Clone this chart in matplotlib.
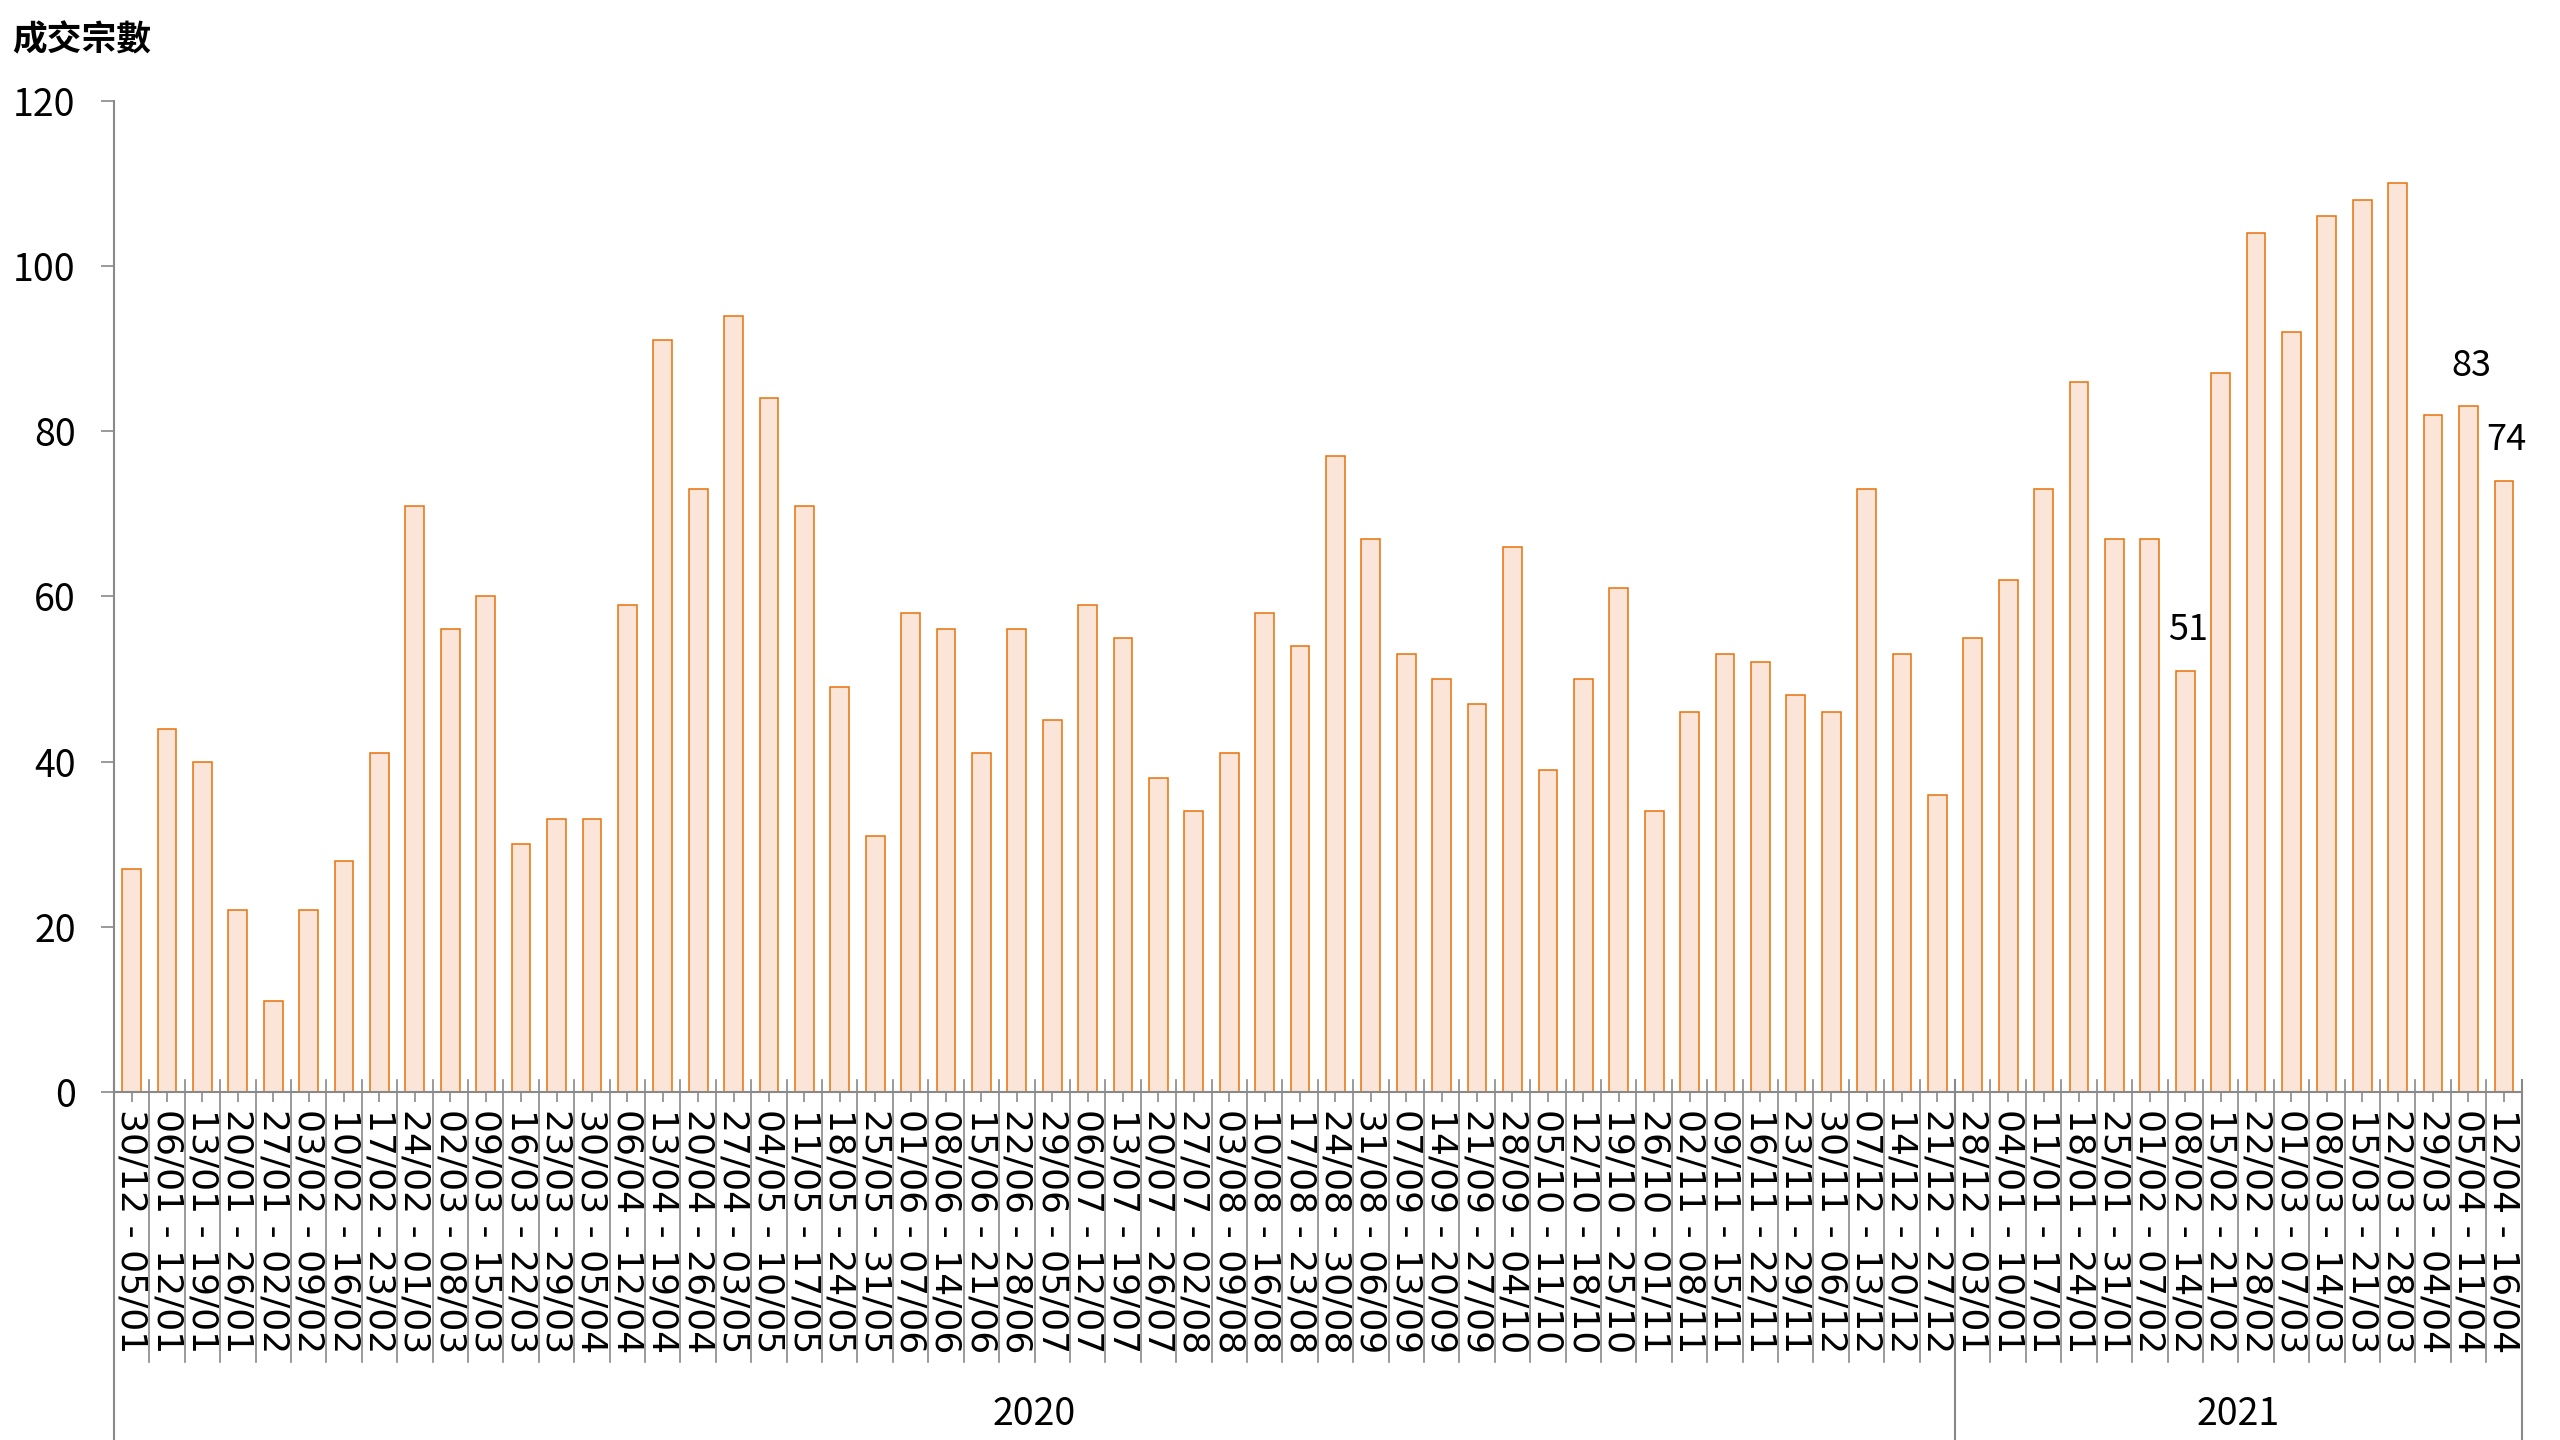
import numpy as np
import matplotlib
matplotlib.use("Agg")
import matplotlib.pyplot as plt
from matplotlib import transforms

# weekly periods and transaction counts
weeks_2020 = [
    "30/12 - 05/01", "06/01 - 12/01", "13/01 - 19/01", "20/01 - 26/01", "27/01 - 02/02",
    "03/02 - 09/02", "10/02 - 16/02", "17/02 - 23/02", "24/02 - 01/03", "02/03 - 08/03",
    "09/03 - 15/03", "16/03 - 22/03", "23/03 - 29/03", "30/03 - 05/04", "06/04 - 12/04",
    "13/04 - 19/04", "20/04 - 26/04", "27/04 - 03/05", "04/05 - 10/05", "11/05 - 17/05",
    "18/05 - 24/05", "25/05 - 31/05", "01/06 - 07/06", "08/06 - 14/06", "15/06 - 21/06",
    "22/06 - 28/06", "29/06 - 05/07", "06/07 - 12/07", "13/07 - 19/07", "20/07 - 26/07",
    "27/07 - 02/08", "03/08 - 09/08", "10/08 - 16/08", "17/08 - 23/08", "24/08 - 30/08",
    "31/08 - 06/09", "07/09 - 13/09", "14/09 - 20/09", "21/09 - 27/09", "28/09 - 04/10",
    "05/10 - 11/10", "12/10 - 18/10", "19/10 - 25/10", "26/10 - 01/11", "02/11 - 08/11",
    "09/11 - 15/11", "16/11 - 22/11", "23/11 - 29/11", "30/11 - 06/12", "07/12 - 13/12",
    "14/12 - 20/12", "21/12 - 27/12",
]
weeks_2021 = [
    "28/12 - 03/01", "04/01 - 10/01", "11/01 - 17/01", "18/01 - 24/01", "25/01 - 31/01",
    "01/02 - 07/02", "08/02 - 14/02", "15/02 - 21/02", "22/02 - 28/02", "01/03 - 07/03",
    "08/03 - 14/03", "15/03 - 21/03", "22/03 - 28/03", "29/03 - 04/04", "05/04 - 11/04",
    "12/04 - 16/04",
]
counts_2020 = [27, 44, 40, 22, 11, 22, 28, 41, 71, 56, 60, 30, 33, 33, 59, 91, 73, 94, 84, 71,
               49, 31, 58, 56, 41, 56, 45, 59, 55, 38, 34, 41, 58, 54, 77, 67, 53, 50, 47, 66,
               39, 50, 61, 34, 46, 53, 52, 48, 46, 73, 53, 36]
counts_2021 = [55, 62, 73, 86, 67, 67, 51, 87, 104, 92, 106, 108, 110, 82, 83, 74]
years = ["2020", "2021"]
labelled = ["08/02 - 14/02", "05/04 - 11/04", "12/04 - 16/04"]

labels = weeks_2020 + weeks_2021
values = np.array(counts_2020 + counts_2021)
group_sizes = [len(weeks_2020), len(weeks_2021)]
x = np.arange(len(values))

GRAY = "#898989"
cjk = ["Noto Sans CJK TC", "DejaVu Sans"]

fig = plt.figure(figsize=(25.6, 14.4), dpi=100)
ax = fig.add_axes([0.0445, 0.2417, 0.9405, 0.6883])

ax.bar(x, values, width=0.53, color="#FAE5D8", edgecolor="#E8710A", linewidth=1.1, zorder=2)

ax.set_xlim(-0.5, len(values) - 0.5)
ax.set_ylim(0, 120)
ax.set_yticks(np.arange(0, 121, 20))
for lab in ax.get_yticklabels():
    lab.set_family(cjk)
ax.tick_params(axis="y", length=9.5, width=1.2, color=GRAY, pad=18, labelsize=27)

ax.set_xticks(x)
ax.set_xticklabels(labels, rotation=270, ha="center", va="top", fontsize=26,
                   family="DejaVu Sans")
ax.tick_params(axis="x", direction="inout", length=14, width=1.2, color=GRAY, pad=5)

for s in ["top", "right"]:
    ax.spines[s].set_visible(False)
for s in ["left", "bottom"]:
    ax.spines[s].set_color(GRAY)
    ax.spines[s].set_linewidth(1.5)

# category separators and year group separators below the axis
trans = transforms.blended_transform_factory(ax.transData, fig.transFigure)
for b in np.arange(len(values) + 1) - 0.5:
    ax.plot([b, b], [0.25, 0.054], color=GRAY, lw=1.2, transform=trans, clip_on=False)
edges = np.concatenate([[0], np.cumsum(group_sizes)]) - 0.5
for e in edges:
    ax.plot([e, e], [0.25, 0.0], color=GRAY, lw=1.5, transform=trans, clip_on=False)
for i, yr in enumerate(years):
    ax.text((edges[i] + edges[i + 1]) / 2, 0.018, yr, transform=trans, ha="center",
            va="center", fontsize=27, family=cjk)

# value labels on selected bars
for lab in labelled:
    i = labels.index(lab)
    ax.annotate(str(values[i]), (x[i], values[i]), xytext=(2, 29), textcoords="offset points",
                ha="center", va="center", fontsize=26, family=cjk)

fig.text(0.0047, 1 - 40 / 1440, "成交宗數", ha="left", va="center", fontsize=25,
         fontweight="bold", family=cjk)

fig.savefig("out.png", dpi=100)
plt.close(fig)
